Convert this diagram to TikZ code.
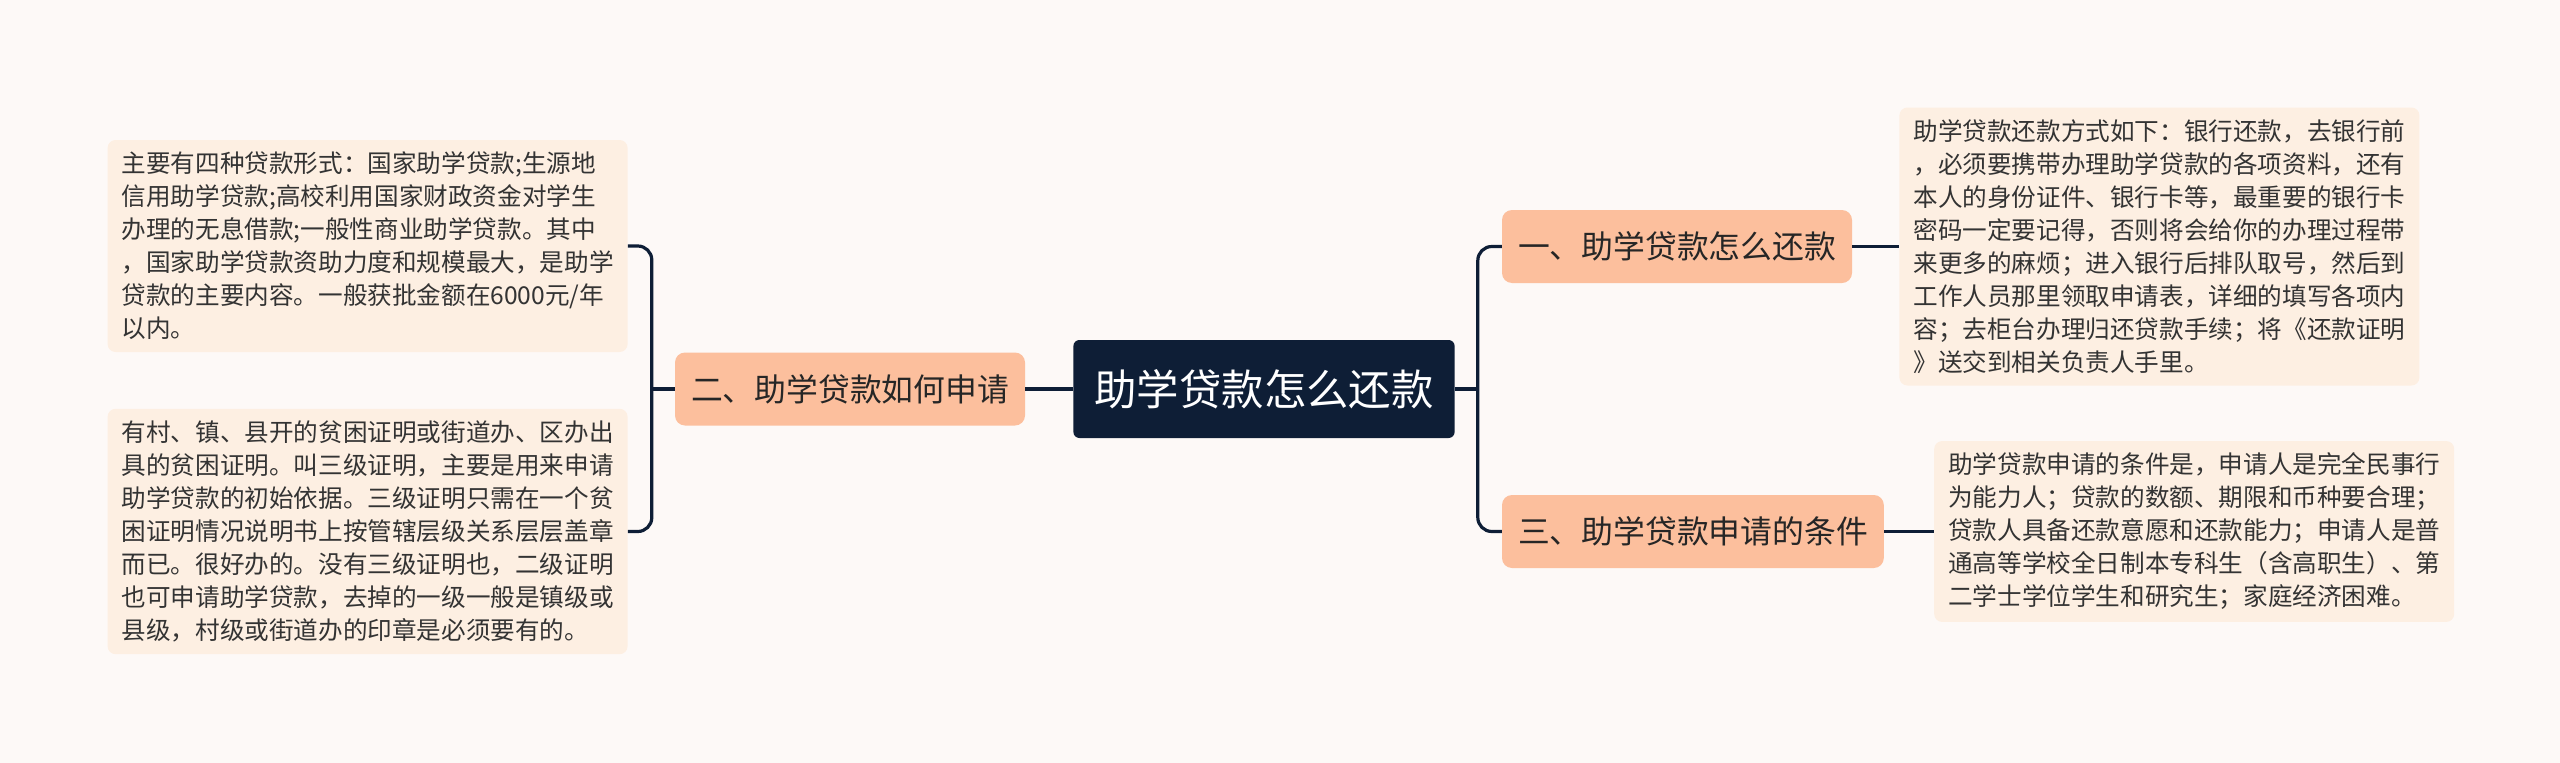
\documentclass[tikz,border=0pt]{standalone}
\usepackage{fontspec}
\setmainfont{Noto Sans CJK SC}
\usepackage{xcolor}
\usetikzlibrary{positioning,calc}

\definecolor{navy}{HTML}{0E1E36}
\definecolor{peach}{HTML}{FCBF9D}
\definecolor{cream}{HTML}{FDEFE2}
\definecolor{paper}{HTML}{FDF9F7}
\definecolor{ink}{HTML}{333333}

\begin{document}
\begin{tikzpicture}[
  topic/.style={rectangle, fill=navy, rounded corners=6pt, text=white,
                font=\fontsize{42.4pt}{48pt}\selectfont, inner xsep=21pt,
                minimum height=98pt},
  branch/.style={rectangle, fill=peach, rounded corners=10pt, text=black!85,
                 font=\fontsize{31.8pt}{38pt}\selectfont, inner xsep=16pt,
                 minimum height=73pt},
  note/.style={rectangle, fill=cream, rounded corners=8pt, text=ink,
               font=\fontsize{24.6pt}{33pt}\selectfont, align=left,
               inner xsep=14pt, inner ysep=12pt, minimum width=520pt},
  link/.style={draw=navy, line width=3.2pt, rounded corners=14pt},
]
  \fill[paper] (0,0) rectangle (2560pt,-763pt);
  \useasboundingbox (0,0) rectangle (2560pt,-763pt);

  \node[topic] (root) at (1264pt,-389pt) {助学贷款怎么还款};

  \node[branch, left=48pt of root] (two) {二、助学贷款如何申请};
  \node[branch, right=47pt of root, yshift=142.5pt] (one) {一、助学贷款怎么还款};
  \node[branch, right=47pt of root, yshift=-142.5pt] (three) {三、助学贷款申请的条件};

  \node[note, left=47pt of two, yshift=143pt] (l1)
    {主要有四种贷款形式：国家助学贷款;生源地\\信用助学贷款;高校利用国家财政资金对学生\\办理的无息借款;一般性商业助学贷款。其中\\，国家助学贷款资助力度和规模最大，是助学\\贷款的主要内容。一般获批金额在6000元/年\\以内。};
  \node[note, left=47pt of two, yshift=-142.5pt] (l2)
    {有村、镇、县开的贫困证明或街道办、区办出\\具的贫困证明。叫三级证明，主要是用来申请\\助学贷款的初始依据。三级证明只需在一个贫\\困证明情况说明书上按管辖层级关系层层盖章\\而已。很好办的。没有三级证明也，二级证明\\也可申请助学贷款，去掉的一级一般是镇级或\\县级，村级或街道办的印章是必须要有的。};
  \node[note, right=47pt of one] (r1)
    {助学贷款还款方式如下：银行还款，去银行前\\，必须要携带办理助学贷款的各项资料，还有\\本人的身份证件、银行卡等，最重要的银行卡\\密码一定要记得，否则将会给你的办理过程带\\来更多的麻烦；进入银行后排队取号，然后到\\工作人员那里领取申请表，详细的填写各项内\\容；去柜台办理归还贷款手续；将《还款证明\\》送交到相关负责人手里。};
  \node[note, right=50pt of three] (r3)
    {助学贷款申请的条件是，申请人是完全民事行\\为能力人；贷款的数额、期限和币种要合理；\\贷款人具备还款意愿和还款能力；申请人是普\\通高等学校全日制本专科生（含高职生）、第\\二学士学位学生和研究生；家庭经济困难。};

  \coordinate (bl) at ($(two.west)+(-23pt,0)$);
  \coordinate (br) at ($(root.east)+(23pt,0)$);

  \draw[link] (root) -- (two);
  \draw[link] (two) -- (bl);
  \draw[link] (l1.east) -| (bl) |- (l2.east);

  \draw[link] (root) -- (br);
  \draw[link] (one.west) -| (br) |- (three.west);

  \draw[link] (one) -- (r1);
  \draw[link] (three) -- (r3);
\end{tikzpicture}
\end{document}
